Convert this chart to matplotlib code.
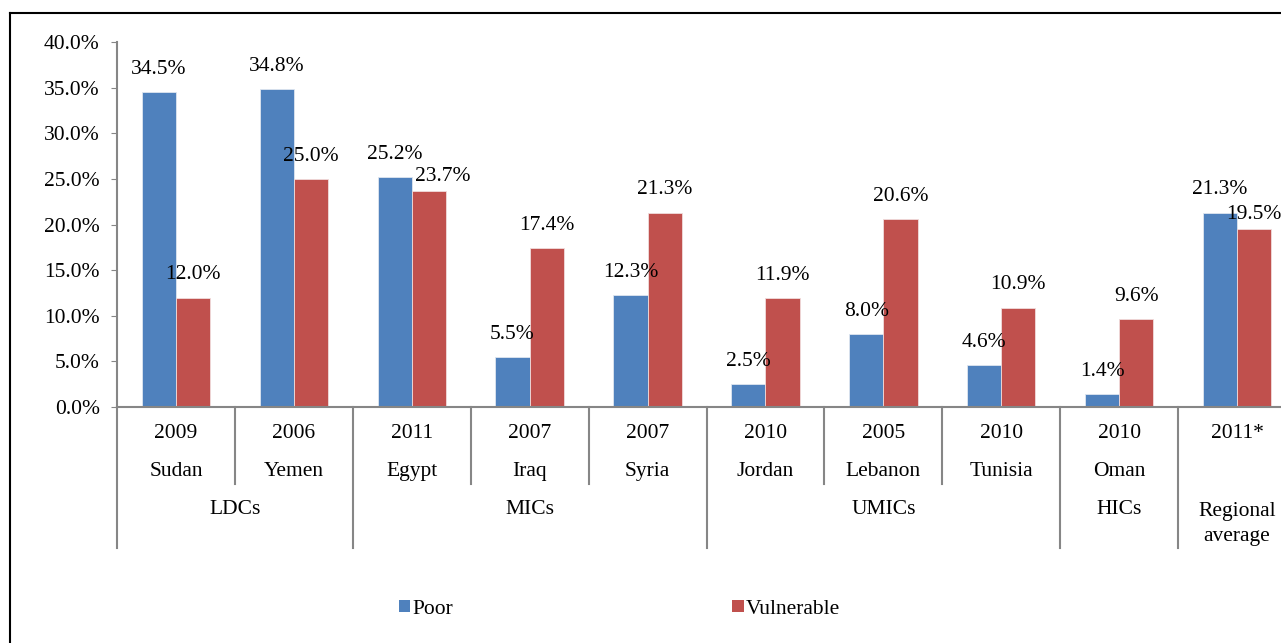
import numpy as np
import matplotlib
matplotlib.use("Agg")
import matplotlib.pyplot as plt
from matplotlib.lines import Line2D
from matplotlib.patches import Patch
from matplotlib.ticker import FuncFormatter

# ----------- DATA ----------- #
years = ['2009', '2006', '2011', '2007', '2007', '2010', '2005', '2010', '2010', '2011*']
countries = ['Sudan', 'Yemen', 'Egypt', 'Iraq', 'Syria', 'Jordan', 'Lebanon', 'Tunisia', 'Oman', '']
groups = ['LDCs', 'MICs', 'UMICs', 'HICs', 'Regional\naverage']
group_sizes = [2, 3, 3, 1, 1]
poor = [34.5, 34.8, 25.2, 5.5, 12.3, 2.5, 8.0, 4.6, 1.4, 21.3]
vulnerable = [12.0, 25.0, 23.7, 17.4, 21.3, 11.9, 20.6, 10.9, 9.6, 19.5]

plt.rcParams['font.family'] = ['Liberation Serif', 'DejaVu Serif']
FS = 15.5
GREY = '#868686'
BLUE = '#4F81BD'
RED = '#C0504D'

fig = plt.figure(figsize=(12.81, 6.43), dpi=100)
ax = fig.add_axes([117 / 1281, 236 / 643, 1179 / 1281, 365 / 643])

x = np.arange(len(years))
w = 0.29
ax.bar(x - w / 2, poor, w, color=BLUE, edgecolor='#dfe6f0', linewidth=0.6, label='Poor')
ax.bar(x + w / 2, vulnerable, w, color=RED, edgecolor='#f0dcdc', linewidth=0.6, label='Vulnerable')

# value labels (a couple nudged like the original to avoid overlaps)
nudge_v = {2: (14, -8), 9: (0, -8)}
for i, v in enumerate(poor):
    ax.annotate(f'{v:.1f}%', (x[i] - w / 2, v), xytext=(0, 9.5), textcoords='offset points',
                ha='center', va='bottom', fontsize=FS)
for i, v in enumerate(vulnerable):
    dx, dy = nudge_v.get(i, (0, 0))
    ax.annotate(f'{v:.1f}%', (x[i] + w / 2, v), xytext=(dx * 0.72, 9.5 + dy * 0.72),
                textcoords='offset points', ha='center', va='bottom', fontsize=FS)

ax.set_xlim(-0.5, len(years) - 0.5)
ax.set_ylim(0, 40)
ax.set_yticks(np.arange(0, 41, 5))
ax.yaxis.set_major_formatter(FuncFormatter(lambda v, p: f'{v:.1f}%'))
ax.tick_params(axis='y', labelsize=FS, length=4.5, color=GREY, direction='out', pad=8)
ax.set_xticks([])
for s in ['top', 'right']:
    ax.spines[s].set_visible(False)
for s in ['left', 'bottom']:
    ax.spines[s].set_color(GREY)
    ax.spines[s].set_linewidth(1.5)

# ----------- MULTI-LEVEL CATEGORY AXIS ----------- #
tr = ax.get_xaxis_transform()
for i in range(len(years)):
    ax.text(x[i], -0.073, years[i], transform=tr, ha='center', va='center', fontsize=FS)
    ax.text(x[i], -0.178, countries[i], transform=tr, ha='center', va='center', fontsize=FS)

bounds = np.cumsum([0] + group_sizes)
long_lines = set(bounds - 0.5)
for b in np.arange(-0.5, len(years) + 0.5, 1.0):
    y_end = -0.386 if b in long_lines else -0.211
    ax.add_line(Line2D([b, b], [0, y_end], transform=tr, color=GREY, lw=1.5, clip_on=False))

for g, start, size in zip(groups, bounds[:-1], group_sizes):
    center = start + size / 2 - 0.5
    yy = -0.32 if '\n' in g else -0.282
    ax.text(center, yy, g, transform=tr, ha='center', va='center', fontsize=FS, linespacing=1.45)

# ----------- LEGEND ----------- #
handles = [Patch(facecolor=BLUE), Patch(facecolor=RED)]
fig.legend(handles, ['Poor', 'Vulnerable'], loc='center left', bbox_to_anchor=(399 / 1281, 1 - 609 / 643),
           ncol=2, frameon=False, fontsize=FS, handlelength=0.52, handleheight=0.52,
           handletextpad=0.12, columnspacing=12.95, borderpad=0, borderaxespad=0)

# ----------- BORDER ----------- #
fig.add_artist(Line2D([10 / 1281, 1.0], [1 - 13 / 643] * 2, color='black', lw=1.5))
fig.add_artist(Line2D([10 / 1281] * 2, [0, 1 - 13 / 643], color='black', lw=1.5))

fig.savefig('out.png', dpi=100)
